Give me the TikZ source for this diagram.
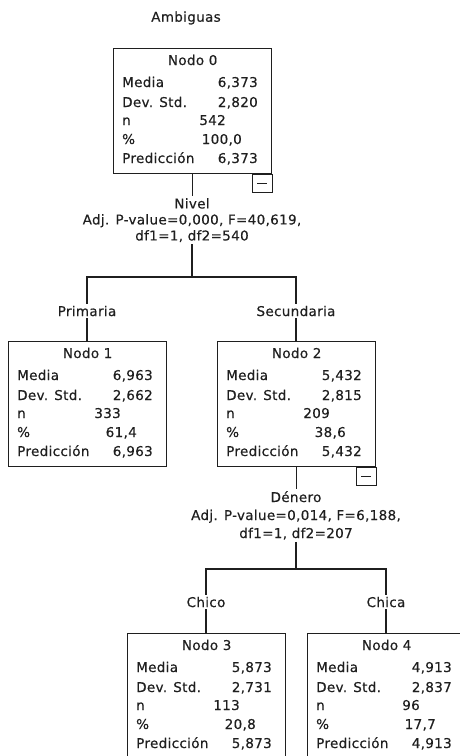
\documentclass[tikz,border=0pt]{standalone}
\usepackage{fontspec}
\setmainfont{DejaVu Sans}[FakeBold=0.4,LetterSpace=2.5]
\usetikzlibrary{calc}
\definecolor{linea}{gray}{0.12}
\tikzset{
  caja/.style  = {draw=linea, line width=1.3pt, minimum width=158pt,
                  minimum height=125pt, inner sep=0pt, anchor=north west},
  texto/.style = {font=\fontsize{13.5}{16}\selectfont, text=linea, inner sep=0pt},
  corte/.style = {texto, align=center, inner sep=2pt},
  rama/.style  = {draw=linea, line width=1.3pt}
}
\newcommand{\nodo}[9]{
  \node[caja] (#1) at (#2,#3) {};
  \node[texto, anchor=base] at ($(#1.north)+(0,17)$) {Nodo #4};
  \node[texto, anchor=base west] at ($(#1.north west)+(9,39)$)  {Media};
  \node[texto, anchor=base east] at ($(#1.north west)+(145,39)$) {#5};
  \node[texto, anchor=base west] at ($(#1.north west)+(9,59)$)  {Dev. Std.};
  \node[texto, anchor=base east] at ($(#1.north west)+(145,59)$) {#6};
  \node[texto, anchor=base west] at ($(#1.north west)+(9,77)$)  {n};
  \node[texto, anchor=base east] at ($(#1.north west)+(113,77)$) {#7};
  \node[texto, anchor=base west] at ($(#1.north west)+(9,96)$)  {\%};
  \node[texto, anchor=base east] at ($(#1.north west)+(129,96)$) {#8};
  \node[texto, anchor=base west] at ($(#1.north west)+(9,115)$) {Predicción};
  \node[texto, anchor=base east] at ($(#1.north west)+(145,115)$) {#9};
}
\newcommand{\menos}[1]{
  \draw[rama] (#1.south east) rectangle +(-20,18);
  \draw[rama] ($(#1.south east)+(-15,9)$) -- +(10,0);
}

\begin{document}
\begin{tikzpicture}[x=1pt,y=-1pt]
	\useasboundingbox (0,0) rectangle (460,756);
	\clip (0,0) rectangle (460,756);
	\node[texto] (titulo) at (186,18) {Ambiguas};
	% nodos del arbol
	\nodo{n0}{113}{48}{0}{6,373}{2,820}{542}{100,0}{6,373}
	\nodo{n1}{8}{341}{1}{6,963}{2,662}{333}{61,4}{6,963}
	\nodo{n2}{217}{341}{2}{5,432}{2,815}{209}{38,6}{5,432}
	\nodo{n3}{127}{633}{3}{5,873}{2,731}{113}{20,8}{5,873}
	\nodo{n4}{307}{633}{4}{4,913}{2,837}{96}{17,7}{4,913}
	\menos{n0}
	\menos{n2}
	% primer corte
	\node[corte, anchor=north] (c0) at (192,196)
	  {Nivel\\Adj. P-value=0,000, F=40,619,\\df1=1, df2=540};
	\coordinate (h0) at (192,277);
	\node[corte] (e1) at (87,311) {Primaria};
	\node[corte] (e2) at (296,311) {Secundaria};
	\draw[rama] (n0.south) -- (n0.south |- c0.north);
	\draw[rama] (c0.south -| h0) -- (h0);
	\draw[rama] (e1.north) |- (h0) -| (e2.north);
	\draw[rama] (e1.south) -- (e1.south |- n1.north);
	\draw[rama] (e2.south) -- (e2.south |- n2.north);
	% segundo corte
	\node[corte, anchor=north] (c2) at (296,489)
	  {Dénero\\[2pt]Adj. P-value=0,014, F=6,188,\\[2pt]df1=1, df2=207};
	\coordinate (h2) at (296,569);
	\node[corte] (e3) at (206,602) {Chico};
	\node[corte] (e4) at (386,602) {Chica};
	\draw[rama] (n2.south) -- (n2.south |- c2.north);
	\draw[rama] (c2.south -| h2) -- (h2);
	\draw[rama] (e3.north) |- (h2) -| (e4.north);
	\draw[rama] (e3.south) -- (e3.south |- n3.north);
	\draw[rama] (e4.south) -- (e4.south |- n4.north);
\end{tikzpicture}
\end{document}
